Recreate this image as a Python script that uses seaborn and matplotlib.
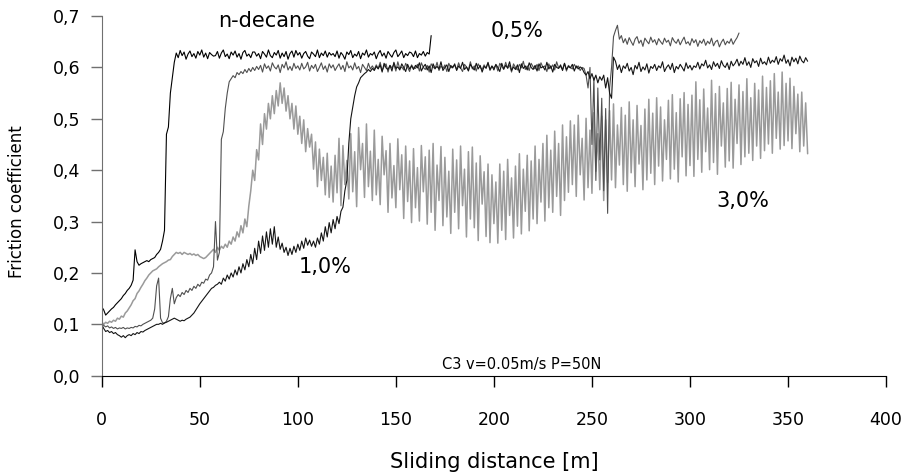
import numpy as np
import pandas as pd
import matplotlib
matplotlib.use("Agg")
import matplotlib.pyplot as plt
from matplotlib.ticker import FuncFormatter
import seaborn as sns

# Friction coefficient every 1 m of sliding distance,
# stored in thousandths (mu * 1000), one list per lubricant.
decane = (
    [134, 128, 118, 122, 126, 130, 133, 138, 142, 146, 150, 156, 160, 166, 170, 176, 186, 245, 222, 215,
     218, 220, 222, 224, 222, 226, 228, 230, 236, 240, 246, 262, 283, 470, 484, 550, 580, 610]
    + [628, 619, 633, 623, 630, 616, 626, 632, 621, 627, 618, 631, 624, 634, 620, 628, 617, 629, 625, 622]
    + [623, 631, 618, 628, 634, 621, 626, 617, 630, 624, 632, 620, 627, 616, 629, 633, 622, 626, 619, 630]
    + [630, 622, 627, 617, 631, 626, 620, 634, 623, 619, 629, 624, 633, 618, 628, 621, 631, 616, 627, 632]
    + [620, 633, 624, 629, 618, 627, 631, 622, 617, 630, 626, 621, 634, 619, 628, 623, 632, 620, 629, 624]
    + [627, 621, 632, 618, 629, 624, 616, 630, 625, 633, 619, 626, 622, 631, 617, 628, 624, 634, 620, 627]
    + [624, 630, 617, 627, 633, 622, 628, 618, 631, 625, 620, 629, 634, 621, 626, 632, 619, 627, 623, 630]
    + [628, 621, 632, 619, 627, 624, 631, 622, 629, 626]
    + [662]
)

half_pct = (
    [100, 98, 95, 97, 93, 95, 92, 94, 91, 93, 92, 94, 91, 93, 92, 94, 93, 96, 95, 98]
    + [97, 100, 102, 104, 106, 108, 112, 130, 175, 190, 112, 103, 102, 106, 115, 150, 170, 140, 152, 158]
    + [154, 162, 158, 166, 162, 170, 166, 174, 170, 178, 174, 182, 180, 188, 186, 196, 200, 212, 300, 225]
    + [240, 460, 475, 520, 550, 572, 578, 584, 580, 590, 586, 592, 588, 596, 590, 598, 592, 600, 594, 602]
    + [596, 604, 591, 607, 598, 603, 593, 609, 601, 597, 605, 590, 606, 599, 611, 595, 602, 594, 608, 598]
    + [603, 595, 608, 597, 601, 610, 593, 604, 598, 606, 592, 600, 609, 596, 603, 591, 607, 599, 605, 594]
    + [601, 607, 596, 604, 592, 611, 599, 603, 595, 609, 597, 602, 590, 606, 600, 594, 608, 597, 603, 596]
    + [605, 598, 610, 594, 602, 607, 591, 604, 599, 606, 593, 611, 597, 601, 595, 608, 600, 592, 605, 599]
    + [598, 606, 593, 609, 600, 596, 604, 591, 607, 601, 597, 610, 594, 603, 598, 605, 592, 608, 599, 602]
    + [604, 596, 609, 599, 592, 606, 601, 595, 611, 597, 603, 593, 607, 600, 596, 605, 598, 610, 594, 602]
    + [599, 605, 593, 608, 602, 596, 610, 598, 604, 591, 607, 600, 595, 606, 599, 612, 596, 603, 594, 608]
    + [601, 597, 606, 594, 609, 600, 603, 592, 607, 598, 605, 595, 611, 599, 602, 596, 608, 593, 604, 600]
    + [597, 606, 599, 603, 594, 600]
    + [598, 585, 560, 600, 450, 580, 380, 560, 420, 540, 360, 520, 316, 560, 600, 660, 672, 682, 655, 662]
    + [648, 656, 645, 658, 650, 643, 655, 660, 647, 653, 641, 657, 651, 646, 659, 649, 654, 644, 656, 650]
    + [645, 657, 649, 653, 642, 658, 651, 647, 655, 644, 652, 659, 646, 650, 643, 656, 648, 654, 641, 652]
    + [647, 655, 643, 651, 646, 657, 642, 650, 653, 640, 649, 655, 644, 651, 647, 656, 645, 652, 658, 667]
)

one_pct = (
    [100, 92, 86, 88, 84, 86, 82, 84, 80, 78, 75, 78, 74, 78, 80, 78, 82, 80, 84, 82]
    + [86, 85, 88, 90, 92, 94, 96, 98, 100, 100, 102, 100, 103, 104, 106, 108, 110, 112, 110, 108]
    + [106, 108, 107, 110, 112, 114, 118, 122, 128, 134, 140, 145, 150, 155, 160, 165, 170, 172, 176, 178]
    + [182, 178, 190, 184, 196, 188, 200, 192, 206, 196, 212, 200, 218, 206, 226, 212, 236, 218, 248, 226]
    + [262, 238, 272, 244, 280, 250, 286, 256, 290, 250, 270, 246, 258, 240, 250, 234, 248, 236, 252, 240]
    + [256, 244, 262, 248, 268, 254, 264, 252, 262, 250, 268, 256, 278, 262, 290, 270, 298, 278, 304, 286]
    + [310, 296, 320, 328, 360, 380, 452, 500, 523, 545, 562, 570, 580, 584, 588, 591, 596, 592, 598]
    + [594, 602, 597, 605, 591, 608, 599, 596, 604, 593, 610, 598, 601, 595, 607, 600, 592, 606, 597, 603]
    + [596, 604, 599, 609, 593, 601, 606, 595, 603, 590, 607, 598, 602, 597, 611, 594, 600, 605, 592, 604]
    + [599, 607, 594, 603, 598, 610, 596, 601, 593, 606, 600, 595, 608, 597, 604, 591, 602, 599, 609, 596]
    + [603, 595, 606, 600, 592, 608, 597, 604, 599, 611, 594, 601, 596, 605, 590, 607, 598, 603, 595, 609]
    + [600, 596, 604, 593, 607, 599, 602, 595, 610, 597, 603, 591, 606, 600, 598, 605, 594, 608, 596, 602]
    + [599, 606, 593, 603, 597, 601]
    + [598, 590, 585, 592, 578, 588, 575, 585, 570, 582, 575, 585, 560, 580, 550, 540, 620, 612]
    + [596, 605, 590, 603, 598, 608, 593, 600, 586, 604, 597, 610, 592, 601, 595, 607, 589, 602, 598, 606]
    + [594, 603, 599, 611, 592, 600, 605, 596, 608, 590, 602, 597, 606, 600, 593, 609, 598, 604, 595, 603]
    + [600, 610, 597, 607, 603, 614, 599, 605, 596, 611, 602, 608, 598, 613, 604, 600, 609, 596, 612, 603]
    + [608, 616, 603, 612, 606, 619, 604, 611, 600, 617, 609, 613, 602, 618, 607, 611, 605, 620, 608, 614]
    + [610, 621, 606, 617, 612, 624, 608, 615, 603, 620, 611, 618, 607, 622, 613, 609, 619, 612]
)

three_pct = (
    [105, 100, 104, 102, 106, 104, 108, 106, 112, 110, 116, 114, 122, 126, 132, 138, 146, 150, 160, 165]
    + [172, 178, 185, 190, 196, 200, 204, 206, 208, 212, 215, 218, 220, 222, 225, 226, 232, 236, 240, 238]
    + [240, 236, 240, 238, 236, 238, 235, 237, 234, 236, 232, 230, 228, 230, 234, 238, 242, 246, 240, 250]
    + [244, 252, 248, 256, 250, 262, 256, 270, 262, 280, 270, 292, 278, 305, 290, 330, 360, 400, 380, 440]
    + [420, 490, 450, 510, 480, 530, 500, 545, 510, 555, 525, 570, 530, 560, 515, 545, 500, 530, 480, 525]
    + [470, 505, 452, 498, 436, 481, 445, 470, 402, 455, 368, 441, 380, 425, 352, 433, 347, 408, 338, 429]
    + [356, 462, 331, 448, 372, 419, 344, 471, 358, 436, 329, 483, 401, 452, 347, 490, 368, 437, 341, 478]
    + [352, 421, 333, 466, 391, 438, 318, 452, 346, 409, 327, 461, 362, 430, 306, 447, 339, 418, 298, 442]
    + [327, 405, 301, 448, 358, 426, 295, 439, 318, 452, 283, 410, 341, 446, 292, 425, 309, 398, 277, 441]
    + [318, 420, 286, 447, 331, 402, 270, 436, 305, 445, 288, 414, 263, 428, 334, 397, 271, 412, 259, 391]
    + [296, 377, 258, 412, 283, 398, 265, 421, 312, 385, 268, 408, 291, 432, 276, 402, 320, 429, 282, 418]
    + [305, 447, 296, 421, 338, 452, 301, 468, 327, 439, 318, 476, 349, 452, 312, 488, 341, 465, 357, 496]
    + [372, 488, 349, 507, 391, 462, 342, 501, 366, 478, 355, 512, 398, 471, 362, 505, 341, 498, 376, 516]
    + [381, 529, 366, 488, 410, 522, 372, 507, 359, 533, 395, 498, 368, 526, 412, 487, 362, 519, 381, 538]
    + [394, 511, 372, 541, 408, 523, 379, 498, 421, 536, 383, 547, 402, 512, 377, 539, 426, 551, 389, 528]
    + [409, 546, 388, 572, 421, 537, 396, 558, 436, 521, 401, 575, 415, 549, 392, 563, 447, 531, 406, 559]
    + [418, 571, 404, 538, 452, 566, 411, 553, 426, 578, 433, 541, 419, 569, 447, 556, 423, 583, 438, 561]
    + [451, 574, 433, 588, 462, 552, 441, 591, 448, 569, 457, 579, 442, 563, 471, 548, 436, 552, 447, 531, 432]
)

assert len(decane) == 169 and len(half_pct) == 326
assert len(one_pct) == 361 and len(three_pct) == 361

series = {"n-decane": decane, "0,5%": half_pct, "1,0%": one_pct, "3,0%": three_pct}
colors = {"n-decane": "#000000", "0,5%": "#505050", "1,0%": "#141414", "3,0%": "#9a9a9a"}
draw_order = ["3,0%", "0,5%", "1,0%", "n-decane"]

frames = []
for name, vals in series.items():
    frames.append(pd.DataFrame({
        "distance": np.arange(len(vals)),  # one reading per metre
        "mu": np.array(vals) / 1000.0,
        "oil": name,
    }))
df = pd.concat(frames, ignore_index=True)

sns.set_style("ticks")
plt.rcParams["font.family"] = ["DejaVu Sans"]
plt.rcParams["text.color"] = "black"
plt.rcParams["axes.labelcolor"] = "black"

fig = plt.figure(figsize=(9.06, 4.72), dpi=100)
ax = fig.add_axes([0.1123, 0.204, 0.8657, 0.762])

sns.lineplot(data=df, x="distance", y="mu", hue="oil", hue_order=draw_order,
             palette=colors, estimator=None, sort=False, linewidth=0.8,
             legend=False, ax=ax)
# the 3,0% trace is a dense band in the original, so draw it a bit heavier
ax.lines[0].set_linewidth(1.1)

ax.set_xlim(0, 400)
ax.set_ylim(0, 0.7)
ax.set_xticks(np.arange(0, 401, 50))
ax.set_yticks(np.arange(0, 0.71, 0.1))
ax.yaxis.set_major_formatter(FuncFormatter(lambda v, p: f"{v:.1f}".replace(".", ",")))

sns.despine(ax=ax)
ax.spines["left"].set_color("#707070")
ax.spines["bottom"].set_color("#000000")
ax.tick_params(axis="x", direction="out", length=8, width=1, pad=17.5,
               labelsize=12.5, color="#000000", labelcolor="black")
ax.tick_params(axis="y", direction="out", length=8, width=1, pad=7.5,
               labelsize=12.5, color="#707070", labelcolor="black")

ax.set_xlabel("Sliding distance [m]", fontsize=15)
ax.set_ylabel("Friction coefficient", fontsize=12)
ax.xaxis.label.set_verticalalignment("center")
ax.xaxis.set_label_coords(0.5, -0.24)
ax.yaxis.label.set_verticalalignment("center")
ax.yaxis.set_label_coords(-0.108, 0.484)

# curve labels
ax.text(84, 0.690, "n-decane", fontsize=15, ha="center", va="center")
ax.text(212, 0.671, "0,5%", fontsize=15, ha="center", va="center")
ax.text(114, 0.212, "1,0%", fontsize=15, ha="center", va="center")
ax.text(327, 0.341, "3,0%", fontsize=15, ha="center", va="center")
ax.text(214, 0.021, "C3 v=0.05m/s P=50N", fontsize=10.5, ha="center", va="center")

fig.savefig("out.png", dpi=100)
